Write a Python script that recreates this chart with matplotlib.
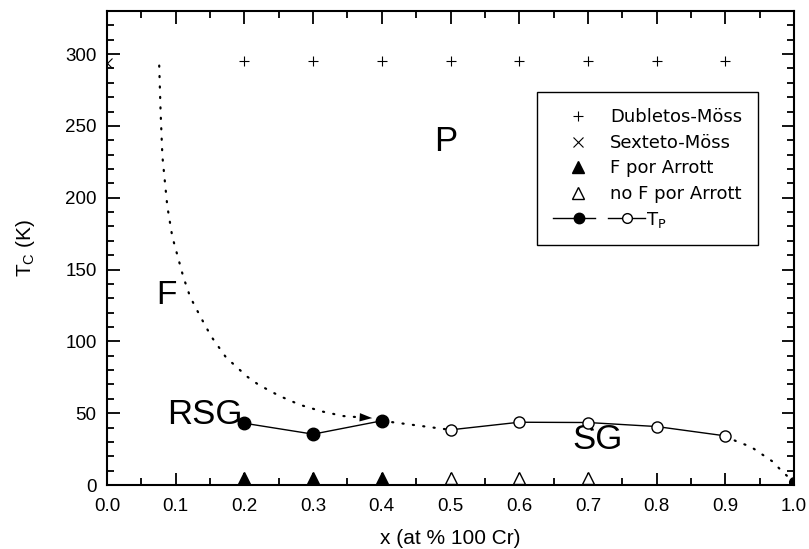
import matplotlib
matplotlib.use("Agg")
import matplotlib.pyplot as plt
from matplotlib.lines import Line2D
from matplotlib.text import Text
from matplotlib.legend_handler import HandlerBase
from matplotlib.ticker import MultipleLocator, FormatStrFormatter

plt.rcParams['font.family'] = ['Liberation Sans', 'DejaVu Sans']
plt.rcParams['mathtext.default'] = 'regular'

# ---- data ----
dub_x = [0.2, 0.3, 0.4, 0.5, 0.6, 0.7, 0.8, 0.9]
dub_y = [295, 295, 295, 295, 295, 295, 295, 295]
sex_x = [0.0]
sex_y = [294]
fa_x = [0.2, 0.3, 0.4]
fa_y = [5, 5, 5]
nfa_x = [0.5, 0.6, 0.7]
nfa_y = [5, 5, 5]
tp_f_x = [0.2, 0.3, 0.4]
tp_f_y = [43, 35.4, 44.7]
tp_o_x = [0.5, 0.6, 0.7, 0.8, 0.9]
tp_o_y = [38.4, 43.7, 43.5, 40.7, 34.2]
end_x = [1.0]
end_y = [2]
# dotted boundary F -> RSG (ends with an arrow head)
curve_x = [0.076, 0.078, 0.0806, 0.0878, 0.095, 0.111, 0.121, 0.1356, 0.1516,
           0.173, 0.189, 0.2036, 0.2206, 0.251, 0.281, 0.313, 0.344, 0.366, 0.386]
curve_y = [292, 260, 229, 194, 173, 145, 131, 117.5, 103.5,
           89, 82, 75.6, 69.8, 62, 55.8, 51.2, 48, 47.2, 46.6]
# dotted links
link1_x = [0.4, 0.5]
link1_y = [44.7, 38.4]
link2_x = [0.9, 0.918, 0.937, 0.969, 0.983, 1.0]
link2_y = [34.2, 30, 26.7, 16.3, 9.3, 2]

dot_style = dict(color='k', lw=1.6, linestyle=(0, (0.5, 4.2)), dash_capstyle='round')

fig = plt.figure(figsize=(8.09, 5.49), dpi=100)
ax = fig.add_axes([107/809, 1-485/549, 687/809, 474/549])

ax.plot(curve_x[:-1], curve_y[:-1], **dot_style)
ax.annotate('', xy=(curve_x[-1], curve_y[-1]), xytext=(curve_x[-2], curve_y[-2]),
            arrowprops=dict(arrowstyle='-|>,head_length=0.9,head_width=0.3', color='k', lw=0.01,
                            shrinkA=0, shrinkB=0))
ax.plot(link1_x, link1_y, **dot_style)
ax.plot(link2_x, link2_y, **dot_style)

ax.plot(tp_f_x, tp_f_y, '-', color='k', lw=1.0, marker='o', ms=9, mfc='k', mec='k', zorder=4)
ax.plot(tp_o_x, tp_o_y, '-', color='k', lw=1.0, marker='o', ms=8, mfc='white', mec='k', mew=1.0, zorder=4)
ax.plot(end_x, end_y, 'o', color='k', ms=7, zorder=4)

ax.plot(dub_x, dub_y, '+', color='k', ms=6.5, mew=0.8, ls='none')
ax.plot(sex_x, sex_y, 'x', color='k', ms=7, mew=0.8, ls='none')
ax.plot(fa_x, fa_y, '^', color='k', ms=8, ls='none')
ax.plot(nfa_x, nfa_y, '^', mfc='white', mec='k', mew=1.0, ms=8, ls='none')

ax.text(0.493, 239, 'P', fontsize=25, ha='center', va='center')
ax.text(0.087, 132, 'F', fontsize=24, ha='center', va='center')
ax.text(0.143, 49, 'RSG', fontsize=25, ha='center', va='center')
ax.text(0.714, 31.4, 'SG', fontsize=25, ha='center', va='center')

ax.set_xlim(0, 1.0)
ax.set_ylim(0, 330)
ax.xaxis.set_major_locator(MultipleLocator(0.1))
ax.xaxis.set_minor_locator(MultipleLocator(0.05))
ax.xaxis.set_major_formatter(FormatStrFormatter('%.1f'))
ax.yaxis.set_major_locator(MultipleLocator(50))
ax.yaxis.set_minor_locator(MultipleLocator(10))
ax.tick_params(which='both', direction='in', top=True, right=True, labelsize=13.5, width=1.3)
ax.tick_params(which='major', length=9)
ax.tick_params(which='minor', length=5)
ax.tick_params(axis='x', which='major', pad=9.5)
ax.tick_params(axis='y', which='major', pad=7.5)
for s in ax.spines.values():
    s.set_linewidth(1.5)
ax.set_xlabel('x (at % 100 Cr)', fontsize=15, labelpad=10)
ax.set_ylabel('T$_C$ (K)', fontsize=15, labelpad=20)


class TPHandler(HandlerBase):
    def create_artists(self, legend, orig_handle, xdescent, ydescent, width, height, fontsize, trans):
        y = height / 2 - ydescent
        x0 = -xdescent
        arts = []
        segs = [((x0 + 0.0, x0 + 29.9), x0 + 18.4, 'k', 7.5),
                ((x0 + 39.2, x0 + 65.9), x0 + 52.9, 'white', 7.0)]
        for (a, b), m, fc, ms in segs:
            arts.append(Line2D([a, b], [y, y], color='k', lw=1.0, transform=trans))
            arts.append(Line2D([m], [y], ls='none', marker='o', ms=ms,
                               mfc=fc, mec='k', mew=1.0, transform=trans))
        t = Text(x0 + 66.5, y - 0.36 * fontsize, 'T$_P$', fontsize=fontsize,
                 family=['DejaVu Sans'], ha='left', va='baseline')
        t.set_transform(trans)
        arts.append(t)
        return arts


h_dub = Line2D([], [], ls='none', marker='+', color='k', ms=7.5, mew=0.8)
h_sex = Line2D([], [], ls='none', marker='x', color='k', ms=7, mew=0.8)
h_fa = Line2D([], [], ls='none', marker='^', color='k', ms=8)
h_nfa = Line2D([], [], ls='none', marker='^', mfc='white', mec='k', ms=8)
h_tp = Line2D([], [])
leg = ax.legend([h_dub, h_sex, h_fa, h_nfa, h_tp],
                ['Dubletos-Möss', 'Sexteto-Möss', 'F por Arrott', 'no F por Arrott', ''],
                handler_map={h_tp: TPHandler()},
                loc='upper left', bbox_to_anchor=(0.626, 0.829),
                prop={'family': 'DejaVu Sans', 'size': 13},
                frameon=True, fancybox=False, edgecolor='k', framealpha=1,
                handlelength=2.74, handletextpad=0.40, labelspacing=0.42,
                borderpad=0.9, borderaxespad=0)
leg.get_frame().set_linewidth(1.0)

fig.savefig('out.png', dpi=100)
